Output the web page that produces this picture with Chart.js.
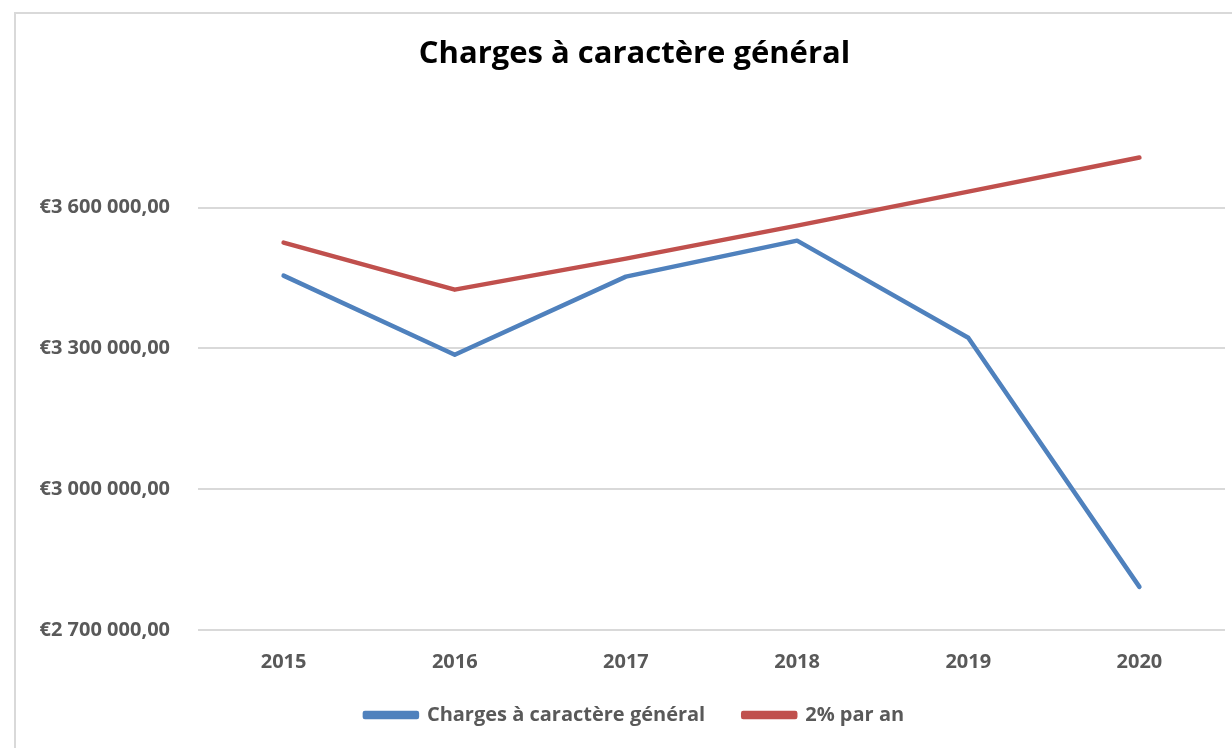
<!DOCTYPE html>
<html>
<head>
<meta charset="utf-8">
<script src="https://cdn.jsdelivr.net/npm/chart.js@4/dist/chart.umd.min.js"></script>
<style>
  body { margin: 0; background: #fff; overflow: hidden; }
  #frame { position: absolute; left: 14px; top: 12px; width: 1240px; height: 760px; border: 2px solid #d9d9d9; }
  #wrap { position: absolute; left: 0; top: 0; width: 1232px; height: 748px; }
</style>
</head>
<body>
<div id="frame"></div>
<div id="wrap"><canvas id="chartCanvas"></canvas></div>
<script>
// Values
const years = ["2015", "2016", "2017", "2018", "2019", "2020"];
const charges = [3455000, 3286600, 3452900, 3529600, 3322800, 2791900];
const twoPercent = [3525400, 3425200, 3491300, 3561600, 3634100, 3706600];
const yTicks = [2700000, 3000000, 3300000, 3600000];

const FONT = "'Open Sans', sans-serif";
const GREY = "#595959";

function euro(v) {
  const s = Math.round(v).toString().replace(/\B(?=(\d{3})+(?!\d))/g, " ");
  return "€" + s + ",00";
}

// axis boxes are squeezed to place things like the reference, so widen their label clip
const unclipLabels = {
  id: "unclipLabels",
  afterLayout(chart) {
    chart.scales.y.left = 0;
    chart.scales.x.bottom = chart.height;
  },
};

const ctx = document.getElementById("chartCanvas").getContext("2d");
const chart = new Chart(ctx, {
  type: "line",
  data: {
    labels: years,
    datasets: [
      {
        label: "Charges à caractère général",
        data: charges,
        borderColor: "#4F81BD",
        backgroundColor: "#4F81BD",
        borderWidth: 4.5,
        borderCapStyle: "round",
        borderJoinStyle: "round",
        pointRadius: 0,
        tension: 0,
      },
      {
        label: "2% par an",
        data: twoPercent,
        borderColor: "#C0504D",
        backgroundColor: "#C0504D",
        borderWidth: 4.5,
        borderCapStyle: "round",
        borderJoinStyle: "round",
        pointRadius: 0,
        tension: 0,
      },
    ],
  },
  plugins: [unclipLabels],
  options: {
    responsive: true,
    maintainAspectRatio: false,
    animation: false,
    layout: { padding: { left: 44, right: 7, top: 0, bottom: 13 } },
    plugins: {
      title: {
        display: true,
        text: "Charges à caractère général",
        color: "#000",
        font: { family: FONT, size: 31, weight: "bold" },
        padding: { top: 36, bottom: 64 },
      },
      legend: {
        position: "bottom",
        labels: {
          color: GREY,
          font: { family: FONT, size: 20, weight: "bold" },
          boxWidth: 52,
          boxHeight: 4,
          padding: 38,
        },
      },
      tooltip: { enabled: false },
    },
    scales: {
      x: {
        offset: true,
        grid: { display: false, drawTicks: false },
        border: { display: false },
        ticks: {
          color: GREY,
          font: { family: FONT, size: 20, weight: "bold" },
          padding: 20,
          maxRotation: 0,
        },
        afterFit: (scale) => { scale.height = 37; },
      },
      y: {
        min: 2700000,
        max: 3750000,
        grid: { color: "#d9d9d9", lineWidth: 2, drawTicks: false },
        border: { display: false },
        ticks: {
          color: GREY,
          font: { family: FONT, size: 20, weight: "bold" },
          padding: 28,
          callback: (v) => euro(v),
        },
        afterBuildTicks: (scale) => {
          scale.ticks = yTicks.map((v) => ({ value: v }));
        },
        afterFit: (scale) => { scale.width = 154; },
      },
    },
  },
});
</script>
</body>
</html>
